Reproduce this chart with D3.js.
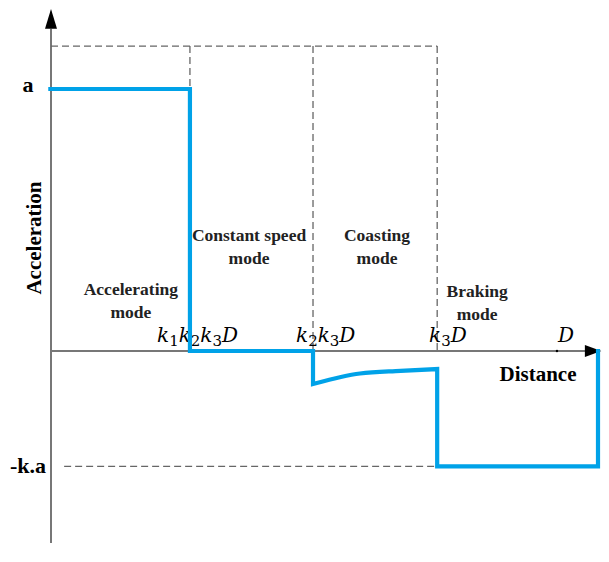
<!DOCTYPE html>
<html><head><meta charset="utf-8">
<script src="https://cdn.jsdelivr.net/npm/d3@7"></script>
<style>body{margin:0;background:#fff}svg{display:block}text{font-family:"Liberation Serif","DejaVu Serif",serif}</style>
</head><body><svg id="c" width="609" height="562"></svg>
<script>
// Data (distance in % of span, acceleration in units of a)
const boundaries = [25.4, 47.9, 70.6];            // k1k2k3D, k2k3D, k3D
const dTick = 92.5;                               // D
const topLevel = 1.164;                           // upper dashed line
const accelLevel = 1;                             // a
const brakeLevel = -0.44;                         // -k.a
const stepX1 = [-0.5, 25.4, 25.4, 47.9, 47.9];
const stepY1 = [1, 1, 0, 0, -0.126];
const coastX = [47.9, 53, 56.5, 63.9, 70.6];
const coastY = [-0.126, -0.099, -0.086, -0.076, -0.069];
const stepX2 = [70.6, 70.6, 100, 100];
const stepY2 = [-0.069, -0.44, -0.44, 0.008];
const tickLabels = [["k","1","k","2","k","3","D"],["k","2","k","3","D"],["k","3","D"],["D"]];
const modeLabels = [["Accelerating","mode"],["Constant speed","mode"],["Coasting","mode"],["Braking","mode"]];
const modeCenters = [14.6, 36.2, 59.6, 77.9];
const modeLevels = [0.214, 0.42, 0.42, 0.206];

const svg = d3.select("#c");
const x = d3.scaleLinear().domain([0,100]).range([51,598]);
const y = d3.scaleLinear().domain([0,1]).range([351,89]);

// axes
svg.append("line").attr("x1",x(0)).attr("x2",x(0)).attr("y1",y(-0.733)).attr("y2",y(1.23))
  .attr("stroke","#777").attr("stroke-width",2);
svg.append("line").attr("x1",x(0)).attr("x2",x(98.5)).attr("y1",y(0)).attr("y2",y(0))
  .attr("stroke","#777").attr("stroke-width",2);
svg.append("path").attr("d",`M${x(0)},${y(1.305)} L${x(0)-6},${y(1.23)} L${x(0)+6},${y(1.23)}Z`).attr("fill","#000");
svg.append("path").attr("d",`M${x(100.6)},${y(0)} L${x(97.6)},${y(0)-6} L${x(97.6)},${y(0)+6}Z`).attr("fill","#000");

// dashed guides
const dash = {stroke:"#666","stroke-width":1.3,"stroke-dasharray":"7,4"};
function dline(x1,y1,x2,y2){const l=svg.append("line").attr("x1",x(x1)).attr("y1",y(y1)).attr("x2",x(x2)).attr("y2",y(y2));
  Object.entries(dash).forEach(([k,v])=>l.attr(k,v));}
dline(0,topLevel,boundaries[2],topLevel);
dline(boundaries[0],topLevel,boundaries[0],accelLevel);
dline(boundaries[1],topLevel,boundaries[1],0);
dline(boundaries[2],topLevel,boundaries[2],0);
dline(2.4,brakeLevel,boundaries[2],brakeLevel);
svg.append("circle").attr("cx",x(dTick)).attr("cy",y(0)).attr("r",1.2).attr("fill","#000");

// y labels
svg.append("text").attr("x",28).attr("y",y(accelLevel)+3).attr("text-anchor","middle")
  .attr("font-weight","bold").attr("font-size",22).text("a");
svg.append("text").attr("x",28).attr("y",y(brakeLevel)+7).attr("text-anchor","middle")
  .attr("font-weight","bold").attr("font-size",22).text("-k.a");
svg.append("text").attr("transform",`translate(41,${238}) rotate(-90)`).attr("text-anchor","middle")
  .attr("font-weight","bold").attr("font-size",21).text("Acceleration");
svg.append("text").attr("x",538).attr("y",381).attr("text-anchor","middle")
  .attr("font-weight","bold").attr("font-size",21).text("Distance");

// tick labels (math)
const tickStarts = [157, 296, 429, 558];
tickLabels.forEach((parts,j)=>{
  const t = svg.append("text").attr("x",tickStarts[j]).attr("y",342)
    .style("font-family","'DejaVu Serif','Liberation Serif',serif").style("font-size","20px");
  parts.forEach((p,i)=>{
    const isSub = /\d/.test(p);
    const ts = t.append("tspan").text(p);
    if(isSub){ts.style("font-size","15px").style("font-style","normal").attr("dy",4);}
    else {ts.style("font-style","italic"); if(i>0 && /\d/.test(parts[i-1])) ts.attr("dy",-4);}
  });
});

// mode labels
modeLabels.forEach((lines,j)=>{
  lines.forEach((s,i)=>{
    svg.append("text").attr("x",x(modeCenters[j])).attr("y",y(modeLevels[j])+i*23)
      .attr("text-anchor","middle").attr("font-weight","bold").attr("font-size",17.5).attr("fill","#222").text(s);
  });
});

// profile (drawn on top)
const lin = (xs,ys)=>d3.line().x((d,i)=>x(xs[i])).y((d,i)=>y(ys[i])).curve(d3.curveLinear)(xs);
const curv = d3.line().x((d,i)=>x(coastX[i])).y((d,i)=>y(coastY[i])).curve(d3.curveMonotoneX)(coastX);
const dPath = lin(stepX1,stepY1) + curv.replace(/^M/,"L") + lin(stepX2,stepY2).replace(/^M/,"L");
svg.append("path").attr("d",dPath).attr("fill","none")
  .attr("stroke","#00a2e8").attr("stroke-width",4.2).attr("stroke-linejoin","miter");
</script></body></html>
